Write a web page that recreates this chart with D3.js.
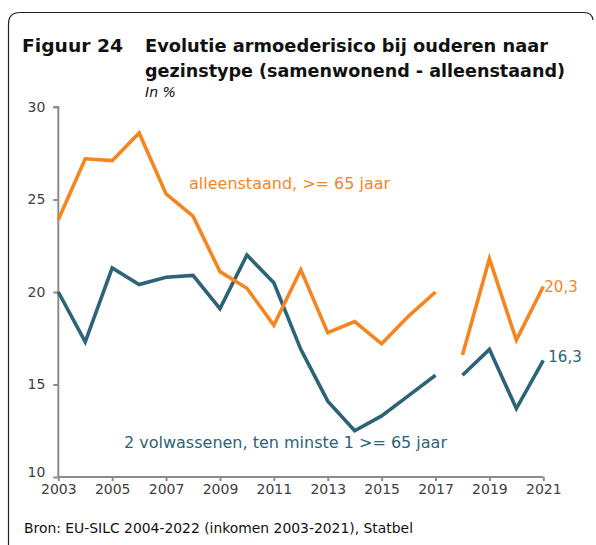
<!DOCTYPE html>
<html>
<head>
<meta charset="utf-8">
<script src="https://cdn.jsdelivr.net/npm/d3@7/dist/d3.min.js"></script>
<style>
body { margin: 0; background: #fff; }
text { font-family: "DejaVu Sans", sans-serif; }
</style>
</head>
<body>
<div id="c"></div>
<script>
// years, with a break in the series between 2017 and 2018
var years = [2003, 2004, 2005, 2006, 2007, 2008, 2009, 2010, 2011, 2012,
	2013, 2014, 2015, 2016, 2017, 2018, 2019, 2020, 2021];
var alleen = [23.9, 27.2, 27.1, 28.6, 25.3, 24.1, 21.1, 20.2, 18.2, 21.2,
	17.8, 18.4, 17.2, 18.7, 20.0, 16.6, 21.8, 17.4, 20.3];
var samen = [20.0, 17.3, 21.3, 20.4, 20.8, 20.9, 19.1, 22.0, 20.5, 16.9,
	14.1, 12.5, 13.3, 14.4, 15.5, 15.5, 16.9, 13.7, 16.3];
var breakYear = 2018;
var y_ticks = [10, 15, 20, 25, 30];
var x_ticks = [2003, 2005, 2007, 2009, 2011, 2013, 2015, 2017, 2019, 2021];

var width = 596, height = 545;
var orange = '#f5861f', blue = '#2d6377', grey = '#404040';

var svg = d3.select('#c').append('svg')
	.attr('width', width)
	.attr('height', height);

// frame (cropped at right and bottom)
svg.append('path')
	.attr('d', 'M8.5,560 L8.5,24 Q8.5,12.5 20,12.5 L584,12.5 Q592,12.5 593,20')
	.attr('fill', 'none')
	.attr('stroke', '#222')
	.attr('stroke-width', 1.2);

// title
svg.append('text').attr('x', 22).attr('y', 52)
	.attr('font-size', 18).attr('font-weight', 'bold').attr('fill', '#111')
	.attr('textLength', 101).attr('lengthAdjust', 'spacingAndGlyphs')
	.text('Figuur 24');
svg.append('text').attr('x', 145).attr('y', 52)
	.attr('font-size', 18).attr('font-weight', 'bold').attr('fill', '#111')
	.attr('textLength', 403).attr('lengthAdjust', 'spacingAndGlyphs')
	.text('Evolutie armoederisico bij ouderen naar');
svg.append('text').attr('x', 145).attr('y', 77)
	.attr('font-size', 18).attr('font-weight', 'bold').attr('fill', '#111')
	.attr('textLength', 420).attr('lengthAdjust', 'spacingAndGlyphs')
	.text('gezinstype (samenwonend - alleenstaand)');
svg.append('text').attr('x', 145).attr('y', 97)
	.attr('font-size', 14).attr('font-style', 'italic').attr('fill', '#111')
	.text('In %');

var x_scale = d3.scaleLinear().domain([2003, 2021]).range([58.3, 543.3]);
var y_scale = d3.scaleLinear().domain([10, 30]).range([477, 107]);

var y_axis = svg.append('g')
	.attr('transform', 'translate(58.3,0)')
	.call(d3.axisLeft(y_scale).tickValues(y_ticks).tickSize(5).tickPadding(8));
var x_axis = svg.append('g')
	.attr('transform', 'translate(0,477)')
	.call(d3.axisBottom(x_scale).tickValues(x_ticks).tickFormat(d3.format('d')).tickSize(4).tickPadding(3));

[y_axis, x_axis].forEach(function(a) {
	a.select('.domain').attr('stroke', '#8c8c8c').attr('stroke-width', 2);
	a.selectAll('.tick line').attr('stroke', '#8c8c8c').attr('stroke-width', 2);
	a.selectAll('.tick text').attr('fill', grey).attr('font-size', 14)
		.attr('font-family', '"DejaVu Sans", sans-serif');
});
y_axis.select('.domain').attr('d', 'M-5,107H0V477');
x_axis.select('.domain').attr('d', 'M58.3,0H543.3V-0');
y_axis.selectAll('.tick').filter(function(d) { return d === 10; })
	.select('text').attr('dy', '-0.05em');

var line = d3.line()
	.defined(function(d) { return d.v != null; })
	.x(function(d) { return x_scale(d.year); })
	.y(function(d) { return y_scale(d.v); });

function seriesData(vals) {
	var out = [];
	years.forEach(function(y, i) {
		if (y === breakYear) out.push({ year: y - 0.5, v: null });
		out.push({ year: y, v: vals[i] });
	});
	return out;
}

svg.append('path').datum(seriesData(samen))
	.attr('d', line).attr('fill', 'none')
	.attr('stroke', blue).attr('stroke-width', 3.6)
	.attr('stroke-linejoin', 'miter');
svg.append('path').datum(seriesData(alleen))
	.attr('d', line).attr('fill', 'none')
	.attr('stroke', orange).attr('stroke-width', 3.6)
	.attr('stroke-linejoin', 'miter');

// series labels
svg.append('text').attr('x', 189).attr('y', 189)
	.attr('font-size', 16).attr('fill', orange)
	.text('alleenstaand, >= 65 jaar');
svg.append('text').attr('x', 124).attr('y', 448)
	.attr('font-size', 16).attr('fill', blue)
	.text('2 volwassenen, ten minste 1 >= 65 jaar');

svg.append('text').attr('x', x_scale(2021) + 1).attr('y', y_scale(alleen[alleen.length - 1]) + 6)
	.attr('font-size', 15).attr('fill', orange)
	.text(d3.format('.1f')(alleen[alleen.length - 1]).replace('.', ','));
svg.append('text').attr('x', x_scale(2021) + 5).attr('y', y_scale(samen[samen.length - 1]) + 2)
	.attr('font-size', 15).attr('fill', blue)
	.text(d3.format('.1f')(samen[samen.length - 1]).replace('.', ','));

// source
svg.append('text').attr('x', 24).attr('y', 533)
	.attr('font-size', 14).attr('fill', '#111')
	.attr('textLength', 389).attr('lengthAdjust', 'spacingAndGlyphs')
	.text('Bron: EU-SILC 2004-2022 (inkomen 2003-2021), Statbel');
</script>
</body>
</html>
